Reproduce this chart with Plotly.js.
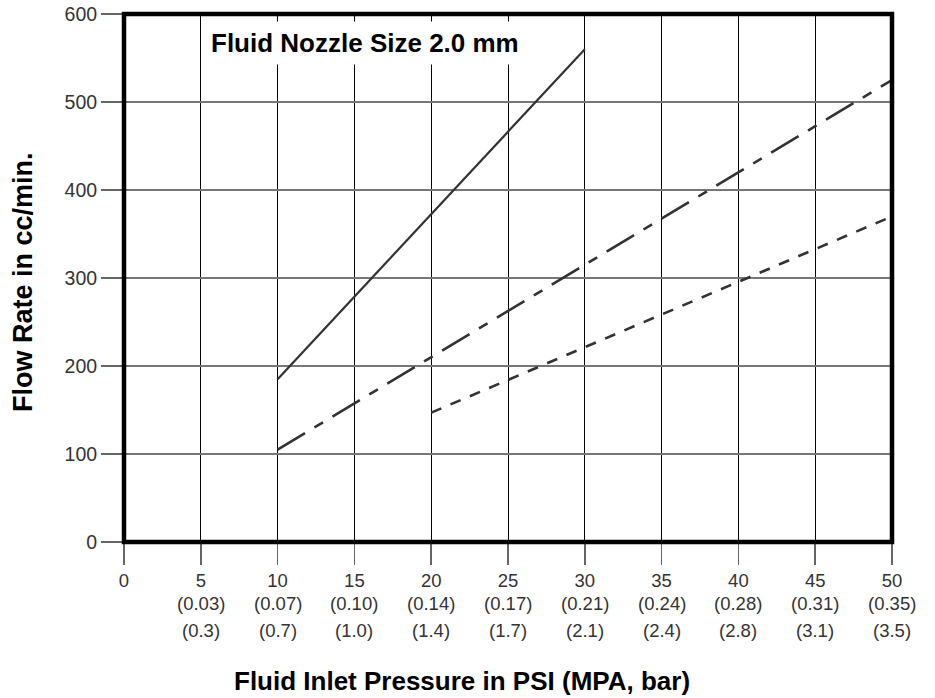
<!DOCTYPE html>
<html>
<head>
<meta charset="utf-8">
<script src="https://cdn.plot.ly/plotly-3.0.1.min.js"></script>
<style>html,body{margin:0;padding:0;background:#fff;}#chart{width:935px;height:698px;}</style>
</head>
<body>
<div id="chart"></div>
<script>
// Tick labels
var psiTicks = [0, 5, 10, 15, 20, 25, 30, 35, 40, 45, 50];
var psiLabels = ["0", "5", "10", "15", "20", "25", "30", "35", "40", "45", "50"];
var mpaLabels = ["", "(0.03)", "(0.07)", "(0.10)", "(0.14)", "(0.17)", "(0.21)", "(0.24)", "(0.28)", "(0.31)", "(0.35)"];
var barLabels = ["", "(0.3)", "(0.7)", "(1.0)", "(1.4)", "(1.7)", "(2.1)", "(2.4)", "(2.8)", "(3.1)", "(3.5)"];
var flowTicks = [0, 100, 200, 300, 400, 500, 600];

// Series
var solidX = [10, 30];
var solidY = [185, 560];
var dashDotX = [10, 50];
var dashDotY = [105, 525];
var dashedX = [20, 50];
var dashedY = [147, 370];

var FONT = '"Liberation Sans", Arial, Helvetica, sans-serif';
var lineColor = '#333333';
var TICK_SIZE = 18.5;

var traces = [
  {x: solidX, y: solidY, mode: 'lines', line: {color: lineColor, width: 2.2}, hoverinfo: 'none'},
  {x: dashDotX, y: dashDotY, mode: 'lines', line: {color: lineColor, width: 2.6, dash: '32px,11px,10px,11px'}, hoverinfo: 'none'},
  {x: dashedX, y: dashedY, mode: 'lines', line: {color: lineColor, width: 2.6, dash: '11px,10px'}, hoverinfo: 'none'}
];

var annotations = [
  {text: '<b>Fluid Nozzle Size 2.0 mm</b>', xref: 'paper', yref: 'paper', x: 0.104, y: 0.945,
   xanchor: 'left', yanchor: 'middle', showarrow: false, bgcolor: '#ffffff', borderpad: 6,
   font: {family: FONT, size: 26, color: '#000'}},
  {text: '<b>Fluid Inlet Pressure in PSI (MPA, bar)</b>', xref: 'paper', yref: 'paper', x: 0.4395, y: (542 - 681) / 528,
   xanchor: 'center', yanchor: 'middle', showarrow: false, font: {family: FONT, size: 26, color: '#000'}},
  {text: '<b>Flow Rate in cc/min.</b>', xref: 'paper', yref: 'paper', x: (23 - 124) / 768, y: (542 - 282) / 528,
   xanchor: 'center', yanchor: 'middle', textangle: -90, showarrow: false, font: {family: FONT, size: 27, color: '#000'}}
];

for (var i = 0; i < psiTicks.length; i++) {
  if (mpaLabels[i]) {
    annotations.push({text: mpaLabels[i], x: psiTicks[i], xref: 'x', yref: 'paper', y: (542 - 603) / 528,
      xanchor: 'center', yanchor: 'middle', showarrow: false, font: {family: FONT, size: TICK_SIZE, color: '#333'}});
  }
  if (barLabels[i]) {
    annotations.push({text: barLabels[i], x: psiTicks[i], xref: 'x', yref: 'paper', y: (542 - 630) / 528,
      xanchor: 'center', yanchor: 'middle', showarrow: false, font: {family: FONT, size: TICK_SIZE, color: '#333'}});
  }
}

var layout = {
  width: 935, height: 698,
  margin: {l: 124, r: 43, t: 14, b: 156},
  paper_bgcolor: '#fff', plot_bgcolor: '#fff',
  showlegend: false,
  font: {family: FONT, size: TICK_SIZE, color: '#333'},
  xaxis: {
    range: [0, 50], tickmode: 'array', tickvals: psiTicks, ticktext: psiLabels,
    showgrid: true, gridcolor: '#000', gridwidth: 1,
    ticks: 'outside', ticklen: 22, tickwidth: 1.5, tickcolor: '#666',
    zeroline: false, showline: false, fixedrange: true,
    tickfont: {family: FONT, size: TICK_SIZE, color: '#333'}
  },
  yaxis: {
    range: [0, 600], tickmode: 'array', tickvals: flowTicks,
    showgrid: true, gridcolor: '#777', gridwidth: 1.3,
    ticks: 'outside', ticklen: 22, tickwidth: 1.5, tickcolor: '#666',
    zeroline: false, showline: false, fixedrange: true,
    tickfont: {family: FONT, size: 19.5, color: '#333'}
  },
  shapes: [
    {type: 'rect', xref: 'paper', yref: 'paper', x0: 0, y0: 0, x1: 1, y1: 1,
     line: {color: '#000', width: 4.5}, fillcolor: 'rgba(0,0,0,0)', layer: 'above'}
  ],
  annotations: annotations
};

Plotly.newPlot('chart', traces, layout, {displayModeBar: false, staticPlot: true});
</script>
</body>
</html>
